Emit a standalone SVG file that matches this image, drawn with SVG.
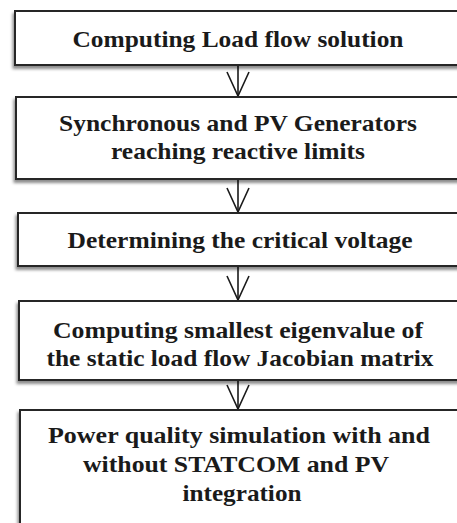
<svg xmlns="http://www.w3.org/2000/svg" width="457" height="523" viewBox="0 0 457 523">
  <style>
    .box { fill: #ffffff; stroke: #262626; stroke-width: 2; filter: url(#shadow); }
    .label { font-family: "Liberation Serif", "Times New Roman", serif; font-weight: bold; font-size: 24px; fill: #1a1a1a; text-anchor: middle; }
    .link { fill: none; stroke: #1a1a1a; stroke-width: 1.6; }
  </style>
  <defs>
    <filter id="shadow" x="-10%" y="-20%" width="120%" height="150%">
      <feDropShadow dx="-1.5" dy="3" stdDeviation="1.8" flood-color="#000000" flood-opacity="0.45"/>
    </filter>
    <!-- open V arrowhead, tip at the end of the line -->
    <marker id="vhead" viewBox="0 0 26 24" refX="25" refY="12" markerWidth="26" markerHeight="24" markerUnits="userSpaceOnUse" orient="auto">
      <path d="M1,1 L25,12 L1,23" fill="none" stroke="#1a1a1a" stroke-width="1.6"/>
    </marker>
  </defs>
  <rect width="457" height="523" fill="#ffffff"/>

  <g id="connectors">
    <line class="link" x1="238" y1="66" x2="238" y2="96" marker-end="url(#vhead)"/>
    <line class="link" x1="238" y1="180" x2="238" y2="212" marker-end="url(#vhead)"/>
    <line class="link" x1="238" y1="267" x2="238" y2="300" marker-end="url(#vhead)"/>
    <line class="link" x1="238" y1="381" x2="238" y2="409" marker-end="url(#vhead)"/>
  </g>

  <g id="load-flow">
    <rect class="box" x="15" y="11" width="460" height="54"/>
    <text class="label" x="238" y="47" textLength="331" lengthAdjust="spacingAndGlyphs">Computing Load flow solution</text>
  </g>

  <g id="reactive-limits">
    <rect class="box" x="16" y="97" width="460" height="82"/>
    <text class="label" x="238" y="131" textLength="358" lengthAdjust="spacingAndGlyphs">Synchronous and PV Generators</text>
    <text class="label" x="238" y="159" textLength="254" lengthAdjust="spacingAndGlyphs">reaching reactive limits</text>
  </g>

  <g id="critical-voltage">
    <rect class="box" x="18" y="213" width="460" height="53"/>
    <text class="label" x="240" y="248" textLength="345" lengthAdjust="spacingAndGlyphs">Determining the critical voltage</text>
  </g>

  <g id="eigenvalue">
    <rect class="box" x="19" y="301" width="460" height="79"/>
    <text class="label" x="238" y="338" textLength="370" lengthAdjust="spacingAndGlyphs">Computing smallest eigenvalue of</text>
    <text class="label" x="240" y="366" textLength="387" lengthAdjust="spacingAndGlyphs">the static load flow Jacobian matrix</text>
  </g>

  <g id="power-quality">
    <rect class="box" x="20" y="410" width="460" height="140"/>
    <text class="label" x="239" y="443" textLength="382" lengthAdjust="spacingAndGlyphs">Power quality simulation with and</text>
    <text class="label" x="236" y="472" textLength="306" lengthAdjust="spacingAndGlyphs">without STATCOM and PV</text>
    <text class="label" x="242" y="501" textLength="119" lengthAdjust="spacingAndGlyphs">integration</text>
  </g>
</svg>
